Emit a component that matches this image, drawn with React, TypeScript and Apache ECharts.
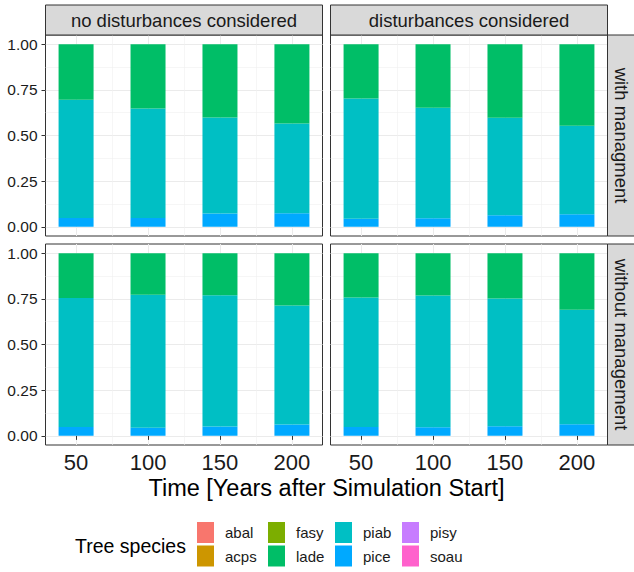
import React, { useEffect, useRef } from "react";
import * as echarts from "echarts";

// ---------- data ----------
const years = [50, 100, 150, 200];
const species = ["abal", "acps", "fasy", "lade", "piab", "pice", "pisy", "soau"];
const speciesColors = ["#F8766D", "#CD9600", "#7CAE00", "#00BE67", "#00BFC4", "#00A9FF", "#C77CFF", "#FF61CC"];
const columnLabels = ["no disturbances considered", "disturbances considered"];
const rowLabels = ["with managment", "without management"];
const yMajor = [0, 0.25, 0.5, 0.75, 1];
const yMinor = [0.125, 0.375, 0.625, 0.875];
const xMajor = [50, 100, 150, 200];
const xMinor = [75, 125, 175];
const legendColumns = [["abal", "acps"], ["fasy", "lade"], ["piab", "pice"], ["pisy", "soau"]];

const zeros = [0, 0, 0, 0];

// no disturbances, with management
const piceNoDistMgmt = [0.049, 0.049, 0.073, 0.075];
const piabNoDistMgmt = [0.647, 0.599, 0.526, 0.49];
const ladeNoDistMgmt = [0.304, 0.352, 0.401, 0.435];
// disturbances, with management
const piceDistMgmt = [0.044, 0.047, 0.064, 0.069];
const piabDistMgmt = [0.659, 0.605, 0.533, 0.485];
const ladeDistMgmt = [0.297, 0.348, 0.403, 0.446];
// no disturbances, without management
const piceNoDistNoMgmt = [0.049, 0.045, 0.051, 0.062];
const piabNoDistNoMgmt = [0.705, 0.727, 0.719, 0.651];
const ladeNoDistNoMgmt = [0.246, 0.228, 0.23, 0.287];
// disturbances, without management
const piceDistNoMgmt = [0.049, 0.047, 0.053, 0.064];
const piabDistNoMgmt = [0.708, 0.721, 0.699, 0.626];
const ladeDistNoMgmt = [0.243, 0.232, 0.248, 0.31];

type Panel = { row: number; col: number; values: Record<string, number[]> };
const panels: Panel[] = [
  { row: 0, col: 0, values: { abal: zeros, acps: zeros, fasy: zeros, lade: ladeNoDistMgmt, piab: piabNoDistMgmt, pice: piceNoDistMgmt, pisy: zeros, soau: zeros } },
  { row: 0, col: 1, values: { abal: zeros, acps: zeros, fasy: zeros, lade: ladeDistMgmt, piab: piabDistMgmt, pice: piceDistMgmt, pisy: zeros, soau: zeros } },
  { row: 1, col: 0, values: { abal: zeros, acps: zeros, fasy: zeros, lade: ladeNoDistNoMgmt, piab: piabNoDistNoMgmt, pice: piceNoDistNoMgmt, pisy: zeros, soau: zeros } },
  { row: 1, col: 1, values: { abal: zeros, acps: zeros, fasy: zeros, lade: ladeDistNoMgmt, piab: piabDistNoMgmt, pice: piceDistNoMgmt, pisy: zeros, soau: zeros } },
];

// ---------- layout ----------
const FONT = "Liberation Sans, Arial, sans-serif";
const colLeft = [45.5, 330.5];
const rowTop = [35, 244];
const panelW = 277;
const panelH = 201;
const stripH = 30;
const X_MIN = 28.75;
const X_MAX = 221.25;
const Y_MIN = -0.05;
const Y_MAX = 1.05;

function buildOption() {
  const grid: any[] = [];
  const xAxis: any[] = [];
  const yAxis: any[] = [];
  const series: any[] = [];
  const graphic: any[] = [];

  panels.forEach((p, i) => {
    grid.push({
      left: colLeft[p.col],
      top: rowTop[p.row],
      width: panelW,
      height: panelH,
      show: true,
      backgroundColor: "#ffffff",
      borderColor: "#333333",
      borderWidth: 1,
      outerBoundsMode: "none",
      containLabel: false,
    });
    const showX = p.row === 1;
    const showY = p.col === 0;
    // major x axis
    xAxis.push({
      type: "value",
      gridIndex: i,
      min: X_MIN,
      max: X_MAX,
      axisLine: { show: false },
      axisTick: { show: showX, customValues: xMajor, length: 4, lineStyle: { color: "#333333", width: 1 } },
      axisLabel: {
        show: showX,
        customValues: xMajor,
        margin: 6,
        fontSize: 22,
        fontFamily: FONT,
        color: "#1a1a1a",
      },
      splitLine: { show: true, lineStyle: { color: "#ebebeb", width: 1 } },
    });
    // minor x axis (grid lines only)
    xAxis.push({
      type: "value",
      gridIndex: i,
      min: X_MIN,
      max: X_MAX,
      axisLine: { show: false },
      axisTick: { show: false, customValues: xMinor },
      axisLabel: { show: false, customValues: xMinor },
      splitLine: { show: true, lineStyle: { color: "#f0f0f0", width: 0.6 } },
    });
    yAxis.push({
      type: "value",
      gridIndex: i,
      min: Y_MIN,
      max: Y_MAX,
      axisLine: { show: false },
      axisTick: { show: showY, customValues: yMajor, length: 4, lineStyle: { color: "#333333", width: 1 } },
      axisLabel: {
        show: showY,
        customValues: yMajor,
        margin: 8,
        fontSize: 15.5,
        fontFamily: FONT,
        color: "#1a1a1a",
        formatter: (v: number) => v.toFixed(2),
      },
      splitLine: { show: true, lineStyle: { color: "#ebebeb", width: 1 } },
    });
    yAxis.push({
      type: "value",
      gridIndex: i,
      min: Y_MIN,
      max: Y_MAX,
      axisLine: { show: false },
      axisTick: { show: false, customValues: yMinor },
      axisLabel: { show: false, customValues: yMinor },
      splitLine: { show: true, lineStyle: { color: "#f0f0f0", width: 0.6 } },
    });

    // stacked bars: ggplot puts the first level on top, so stack from the last.
    // data is [share, year] so the share dimension is the one that gets stacked.
    for (let s = species.length - 1; s >= 0; s--) {
      const name = species[s];
      series.push({
        type: "bar",
        name,
        xAxisIndex: i * 2,
        yAxisIndex: i * 2,
        stack: "panel" + i,
        stackStrategy: "all",
        barWidth: 35,
        itemStyle: { color: speciesColors[s] },
        emphasis: { disabled: true },
        encode: { x: 1, y: 0 },
        data: years.map((yr, k) => [p.values[name][k], yr]),
      });
    }
  });

  // column strips
  columnLabels.forEach((label, c) => {
    graphic.push({
      type: "rect",
      shape: { x: colLeft[c], y: rowTop[0] - stripH, width: panelW, height: stripH },
      style: { fill: "#d9d9d9", stroke: "#333333", lineWidth: 1 },
      z: 10,
    });
    graphic.push({
      type: "text",
      x: colLeft[c] + panelW / 2,
      y: rowTop[0] - stripH / 2,
      style: { text: label, align: "center", verticalAlign: "middle", fontSize: 18.5, fontFamily: FONT, fill: "#1a1a1a" },
      z: 11,
    });
  });
  // row strips
  rowLabels.forEach((label, r) => {
    const x0 = colLeft[1] + panelW;
    graphic.push({
      type: "rect",
      shape: { x: x0, y: rowTop[r], width: stripH, height: panelH },
      style: { fill: "#d9d9d9", stroke: "#333333", lineWidth: 1 },
      z: 10,
    });
    graphic.push({
      type: "text",
      x: x0 + 13.5,
      y: rowTop[r] + panelH / 2,
      rotation: -Math.PI / 2,
      style: { text: label, align: "center", verticalAlign: "middle", fontSize: 18.5, fontFamily: FONT, fill: "#1a1a1a" },
      z: 11,
    });
  });
  // axis title
  graphic.push({
    type: "text",
    x: (colLeft[0] + colLeft[1] + panelW) / 2,
    y: 488,
    style: { text: "Time [Years after Simulation Start]", align: "center", verticalAlign: "middle", fontSize: 23.5, fontFamily: FONT, fill: "#000000" },
  });
  // legend title
  graphic.push({
    type: "text",
    x: 75,
    y: 546,
    style: { text: "Tree species", align: "left", verticalAlign: "middle", fontSize: 19.5, fontFamily: FONT, fill: "#000000" },
  });

  const legendLefts = [197, 268, 335, 402];
  const legend = legendColumns.map((names, c) => ({
    show: true,
    orient: "vertical",
    left: legendLefts[c],
    top: 522,
    padding: 0,
    itemGap: 2.5,
    itemWidth: 17,
    itemHeight: 21,
    icon: "rect",
    selectedMode: false,
    data: names,
    textStyle: { fontSize: 15, fontFamily: FONT, color: "#1a1a1a", padding: [0, 0, 0, 6] },
  }));

  return {
    animation: false,
    backgroundColor: "#ffffff",
    grid,
    xAxis,
    yAxis,
    series,
    legend,
    graphic,
  };
}

export default function App() {
  const ref = useRef<HTMLDivElement>(null);
  useEffect(() => {
    if (!ref.current) return;
    const chart = echarts.init(ref.current, undefined, { renderer: "svg" });
    chart.setOption(buildOption() as any);
    return () => chart.dispose();
  }, []);
  return <div ref={ref} style={{ position: "fixed", left: 0, top: 0, width: 634, height: 572 }} />;
}
